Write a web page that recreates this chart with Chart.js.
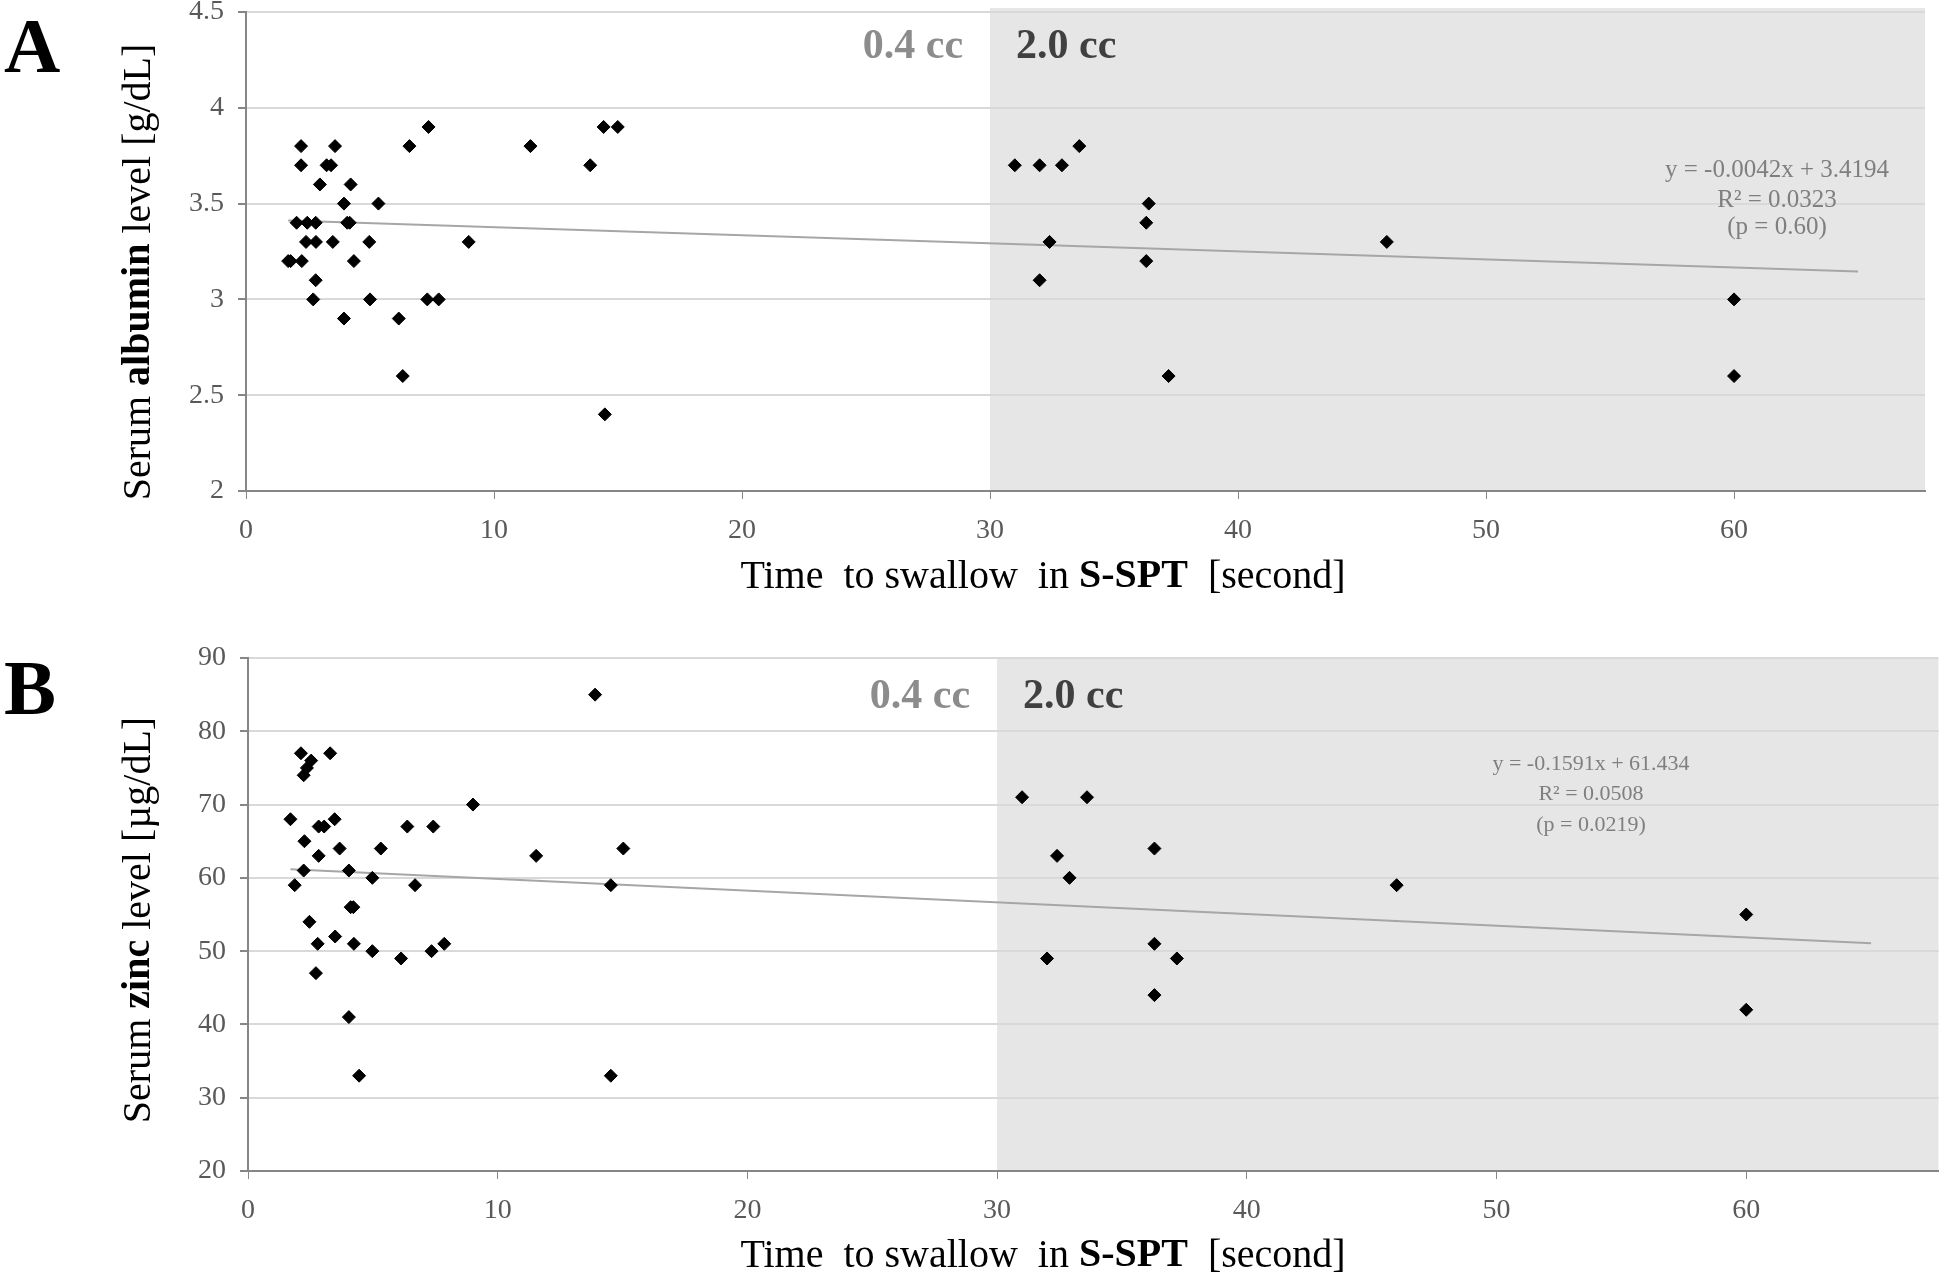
<!DOCTYPE html>
<html>
<head>
<meta charset="utf-8">
<script src="https://cdn.jsdelivr.net/npm/chart.js@4.4.0/dist/chart.umd.min.js"></script>
<style>
body { margin: 0; background: #fff; width: 1946px; height: 1281px; overflow: hidden; position: relative; }
.box { position: absolute; left: 0; width: 1946px; }
</style>
</head>
<body>
<div class="box" id="boxA" style="top:-20px;height:660px"><canvas id="chartA"></canvas></div>
<div class="box" id="boxB" style="top:620px;height:661px"><canvas id="chartB"></canvas></div>
<script>
// shared x axis
var xTicks = [0, 10, 20, 30, 40, 50, 60];
var xMax = 67.7;
var shadeFrom = 30;
var regionLabels = ['0.4 cc', '2.0 cc'];

// panel A - albumin
var albuminTime = [2.22, 3.59, 6.59, 7.36, 2.22, 3.25, 3.43, 2.98, 4.22, 3.95, 5.34, 2.04, 2.47, 2.81, 4.08, 4.18,
    2.42, 2.82, 3.5, 4.97, 8.98, 1.7, 1.8, 2.25, 4.35, 2.81, 2.71, 5.0, 7.31, 7.77, 3.95, 6.16, 6.32,
    11.47, 13.88, 14.42, 14.99, 14.47,
    31.0, 32.0, 32.9, 33.6, 32.4, 32.0, 36.4, 36.3, 36.3, 37.2, 46.0, 60, 60];
var albuminLevel = [3.8, 3.8, 3.8, 3.9, 3.7, 3.7, 3.7, 3.6, 3.6, 3.5, 3.5, 3.4, 3.4, 3.4, 3.4, 3.4,
    3.3, 3.3, 3.3, 3.3, 3.3, 3.2, 3.2, 3.2, 3.2, 3.1, 3.0, 3.0, 3.0, 3.0, 2.9, 2.9, 2.6,
    3.8, 3.7, 3.9, 3.9, 2.4,
    3.7, 3.7, 3.7, 3.8, 3.3, 3.1, 3.5, 3.4, 3.2, 2.6, 3.3, 3.0, 2.6];
var albuminTicks = [2, 2.5, 3, 3.5, 4, 4.5];
var albuminTrendX = [1.7, 65];
var albuminTrendY = [3.412, 3.146];
var albuminEq = ['y = -0.0042x + 3.4194', 'R² = 0.0323', '(p = 0.60)'];

// panel B - zinc
var zincTime = [2.12, 2.53, 2.36, 2.23, 3.29, 9.01, 1.7, 2.83, 3.05, 3.47, 6.38, 7.42, 2.26, 2.83, 3.67, 5.32,
    2.23, 4.04, 1.87, 4.98, 6.69, 4.11, 4.22, 2.46, 2.79, 3.49, 4.24, 4.98, 6.13, 7.35, 7.86, 2.72, 4.04, 4.45,
    11.54, 13.9, 14.53, 15.03, 14.53,
    31.0, 33.6, 32.4, 32.9, 32.0, 36.3, 36.3, 36.3, 37.2, 46.0, 60, 60];
var zincLevel = [77, 76, 75, 74, 77, 70, 68, 67, 67, 68, 67, 67, 65, 63, 64, 64,
    61, 61, 59, 60, 59, 56, 56, 54, 51, 52, 51, 50, 49, 50, 51, 47, 41, 33,
    63, 85, 59, 64, 33,
    71, 71, 63, 60, 49, 64, 51, 44, 49, 59, 55, 42];
var zincTicks = [20, 30, 40, 50, 60, 70, 80, 90];
var zincTrendX = [1.7, 65];
var zincTrendY = [61.16, 51.09];
var zincEq = ['y = -0.1591x + 61.434', 'R² = 0.0508', '(p = 0.0219)'];

var serif = '"Liberation Serif", "Times New Roman", serif';

function drawParts(ctx, parts, x, y, size) {
    var w = 0;
    parts.forEach(function (p) {
        ctx.font = (p[1] ? 'bold ' : '') + size + 'px ' + serif;
        w += ctx.measureText(p[0]).width;
    });
    var cx = x - w / 2;
    ctx.textAlign = 'left';
    parts.forEach(function (p) {
        ctx.font = (p[1] ? 'bold ' : '') + size + 'px ' + serif;
        ctx.fillText(p[0], cx, y);
        cx += ctx.measureText(p[0]).width;
    });
}

function makeChart(id, top, times, levels, yTicks, trendX, trendY, eq, look) {
    var points = times.map(function (t, i) { return {x: t, y: levels[i]}; });
    var trend = trendX.map(function (t, i) { return {x: t, y: trendY[i]}; });

    var deco = {
        id: 'deco' + id,
        beforeDraw: function (chart) {
            var ctx = chart.ctx, a = chart.chartArea;
            var x30 = chart.scales.x.getPixelForValue(shadeFrom);
            ctx.save();
            ctx.fillStyle = '#e6e6e6';
            ctx.fillRect(x30, a.top - look.shadeUp, a.right - x30, a.bottom - a.top + look.shadeUp);
            ctx.restore();
        },
        afterDraw: function (chart) {
            var ctx = chart.ctx;
            var x30 = chart.scales.x.getPixelForValue(shadeFrom);
            ctx.save();
            ctx.textBaseline = 'middle';

            // region labels
            ctx.font = 'bold 42px ' + serif;
            ctx.fillStyle = '#8c8c8c';
            ctx.textAlign = 'right';
            ctx.fillText(regionLabels[0], x30 - 27, look.ccY - top);
            ctx.fillStyle = '#404040';
            ctx.textAlign = 'left';
            ctx.fillText(regionLabels[1], x30 + 26, look.ccY - top);

            // regression text
            ctx.font = look.eqSize + 'px ' + serif;
            ctx.fillStyle = '#7f7f7f';
            ctx.textAlign = 'center';
            eq.forEach(function (s, i) {
                ctx.fillText(s, look.eqX, look.eqY[i] - top);
            });

            // axis titles
            ctx.fillStyle = '#000';
            drawParts(ctx, [['Time  to swallow  in ', false], ['S-SPT', true], ['  [second]', false]],
                look.xTitle[0], look.xTitle[1] - top, 40);
            ctx.save();
            ctx.translate(look.yTitle[0], look.yTitle[1] - top);
            ctx.rotate(-Math.PI / 2);
            drawParts(ctx, look.yTitleParts, 0, 0, 40);
            ctx.restore();

            // panel letter
            ctx.textBaseline = 'alphabetic';
            ctx.textAlign = 'left';
            ctx.font = 'bold 78px ' + serif;
            ctx.fillText(look.letter, 4, look.letterY - top);
            ctx.restore();
        }
    };

    return new Chart(document.getElementById(id), {
        type: 'scatter',
        data: {
            datasets: [{
                data: points,
                pointStyle: 'rectRot',
                pointRadius: 6.5,
                pointBackgroundColor: '#000',
                pointBorderColor: '#000',
                pointBorderWidth: 1
            }, {
                type: 'line',
                data: trend,
                borderColor: '#a6a6a6',
                borderWidth: 2,
                pointRadius: 0,
                fill: false
            }]
        },
        options: {
            responsive: true,
            maintainAspectRatio: false,
            animation: false,
            events: [],
            layout: {padding: {left: 0, right: look.padRight, top: look.areaTop - top, bottom: 0}},
            plugins: {legend: {display: false}, tooltip: {enabled: false}},
            scales: {
                x: {
                    type: 'linear',
                    min: 0,
                    max: xMax,
                    afterBuildTicks: function (s) { s.ticks = xTicks.map(function (v) { return {value: v}; }); },
                    afterFit: function (s) { s.height = look.xHeight; },
                    grid: {drawOnChartArea: false, drawTicks: true, tickLength: 8, tickColor: '#868686'},
                    border: {display: true, color: '#868686', width: 2},
                    ticks: {color: '#595959', font: {family: serif, size: 28}, padding: 15, maxRotation: 0}
                },
                y: {
                    min: yTicks[0],
                    max: yTicks[yTicks.length - 1],
                    afterBuildTicks: function (s) { s.ticks = yTicks.map(function (v) { return {value: v}; }); },
                    afterFit: function (s) { s.width = look.yWidth; },
                    grid: {color: '#d9d9d9', lineWidth: 2, drawTicks: true, tickLength: 8, tickColor: '#868686'},
                    border: {display: true, color: '#868686', width: 2},
                    ticks: {color: '#595959', font: {family: serif, size: 28}, padding: 14,
                        callback: function (v) { return String(v); }}
                }
            }
        },
        plugins: [deco]
    });
}

makeChart('chartA', -20, albuminTime, albuminLevel, albuminTicks, albuminTrendX, albuminTrendY, albuminEq, {
    areaTop: 12, xHeight: 149, yWidth: 246, padRight: 21, shadeUp: 4,
    ccY: 47, eqX: 1777, eqY: [170, 200, 227], eqSize: 25,
    xTitle: [1043, 577], yTitle: [139, 272],
    yTitleParts: [['Serum ', false], ['albumin', true], [' level [g/dL]', false]],
    letter: 'A', letterY: 72
});

makeChart('chartB', 620, zincTime, zincLevel, zincTicks, zincTrendX, zincTrendY, zincEq, {
    areaTop: 658, xHeight: 110, yWidth: 248, padRight: 4, shadeUp: 0,
    ccY: 697, eqX: 1591, eqY: [764, 794, 825], eqSize: 22,
    xTitle: [1043, 1256], yTitle: [139, 920],
    yTitleParts: [['Serum ', false], ['zinc', true], [' level [µg/dL]', false]],
    letter: 'B', letterY: 714
});
</script>
</body>
</html>
